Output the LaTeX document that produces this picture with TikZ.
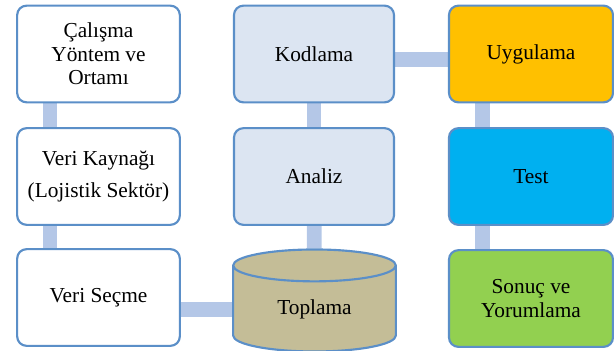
\documentclass[tikz,border=0pt]{standalone}
\usepackage{fontspec}
\setmainfont{Liberation Serif}
\usepackage{xcolor}
\usetikzlibrary{shapes.geometric,backgrounds}

\definecolor{edge}{HTML}{5B8FC8}
\definecolor{linkblue}{HTML}{B4C7E7}
\definecolor{paleblue}{HTML}{DCE5F2}
\definecolor{amber}{HTML}{FFC000}
\definecolor{sky}{HTML}{00B0F0}
\definecolor{lime}{HTML}{92D050}
\definecolor{tan}{HTML}{C4BD97}

\begin{document}
\begin{tikzpicture}[
  x=0.75pt, y=-0.75pt,
  font=\fontsize{16}{17.5}\selectfont,
  stage/.style={draw=edge, line width=1.6pt, rounded corners=7pt, align=center,
    minimum width=122pt, minimum height=72.5pt, inner sep=2pt},
  store/.style={shape=cylinder, shape border rotate=90, aspect=0.4,
    draw=edge, line width=1.6pt, cylinder uses custom fill,
    cylinder body fill=tan, cylinder end fill=tan,
    minimum width=122pt, minimum height=76.5pt, inner sep=2pt},
  link/.style={draw=linkblue, line width=11pt}
]
\useasboundingbox (0,0) rectangle (614,350);

% left column
\node[stage, fill=white] (calisma) at (98.5,54) {Çalışma\\Yöntem ve\\Ortamı};
\node[stage, fill=white] (kaynak) at (98.5,176.5) {Veri Kaynağı\\[6pt](Lojistik Sektör)};
\node[stage, fill=white] (secme) at (98.5,297.5) {Veri Seçme};

% middle column
\node[stage, fill=paleblue, minimum width=120pt] (kodlama) at (314,54) {Kodlama};
\node[stage, fill=paleblue, minimum width=120pt] (analiz) at (314,176.5) {Analiz};
\node[store] (toplama) at (314.5,311) {\smash{\raisebox{-2.5pt}{Toplama}}};

% right column
\node[stage, fill=amber, minimum width=123pt] (uygulama) at (531,54) {Uygulama};
\node[stage, fill=sky, minimum width=123pt] (test) at (531,176.5) {Test};
\node[stage, fill=lime, minimum width=123pt] (sonuc) at (531,298.5) {Sonuç ve\\Yorumlama};

\begin{scope}[on background layer]
\draw[link] ([xshift=25.5pt]calisma.south west) -- ([xshift=25.5pt]kaynak.north west);
\draw[link] ([xshift=25.5pt]kaynak.south west) -- ([xshift=25.5pt]secme.north west);
\draw[link] ([yshift=-9pt]secme.center) -- ([yshift=-9pt]secme.center -| toplama.center);
\draw[link] (toplama) -- (analiz);
\draw[link] (analiz) -- (kodlama);
\draw[link] ([yshift=-4pt]kodlama.center) -- ([yshift=-4pt]kodlama.center -| uygulama.center);
\draw[link] ([xshift=26pt]uygulama.south west) -- ([xshift=26pt]test.north west);
\draw[link] ([xshift=26pt]test.south west) -- ([xshift=26pt]sonuc.north west);
\end{scope}
\end{tikzpicture}
\end{document}
